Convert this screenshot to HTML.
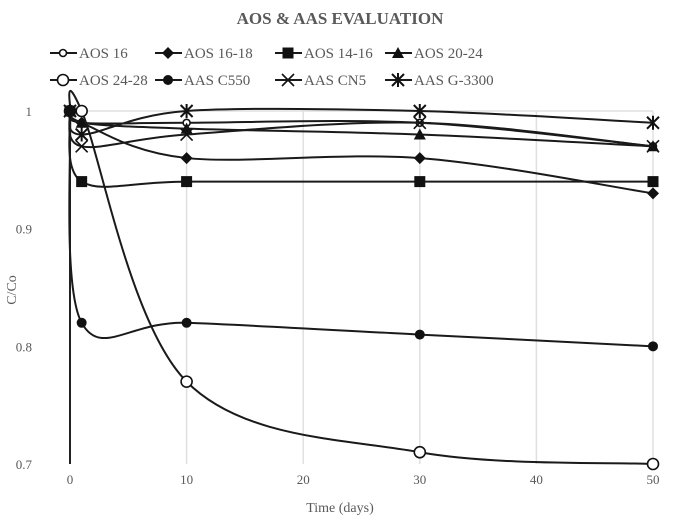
<!DOCTYPE html>
<html><head><meta charset="utf-8"><style>
body{margin:0;background:#fff}
svg{display:block;font-family:"Liberation Serif",serif}
</style></head><body>
<svg id="c" width="677" height="525">
<text x="340" y="24" text-anchor="middle" font-size="17" font-weight="bold" fill="#595959">AOS &amp; AAS EVALUATION</text>
<g id="grid"></g><g id="axes"></g><g id="series"></g><g id="legend"></g>
<text x="340" y="512" text-anchor="middle" font-size="14" fill="#595959">Time (days)</text>
<text transform="translate(16,290) rotate(-90)" text-anchor="middle" font-size="14" fill="#595959">C/Co</text>
</svg>
<script>
const days=[0,1,10,30,50];
const names=["AOS 16","AOS 16-18","AOS 14-16","AOS 20-24","AOS 24-28","AAS C550","AAS CN5","AAS G-3300"];
const markers=["smallcircle","diamond","square","triangle","bigcircle","dot","x","star"];
const aos16=[1,0.99,0.99,0.99,0.97];
const aos1618=[1,0.99,0.96,0.96,0.93];
const aos1416=[1,0.94,0.94,0.94,0.94];
const aos2024=[1,0.99,0.985,0.98,0.97];
const aos2428=[1,1,0.77,0.71,0.70];
const aasC550=[1,0.82,0.82,0.81,0.80];
const aasCN5=[1,0.97,0.98,0.99,0.97];
const aasG3300=[1,0.98,1,1,0.99];
const xTicks=[0,10,20,30,40,50];
const yTicks=[0.7,0.8,0.9,1];
const yTickLabels=["0.7","0.8","0.9","1"];
const allSeries=[aos16,aos1618,aos1416,aos2024,aos2428,aasC550,aasCN5,aasG3300];
const NS="http://www.w3.org/2000/svg";
const X=d=>70+d*(583/50);
const Y=v=>111+(1-v)*(353/0.3);
function mk(tag,attrs,parent){const e=document.createElementNS(NS,tag);for(const k in attrs)e.setAttribute(k,attrs[k]);parent.appendChild(e);return e;}
const grid=document.getElementById('grid'),axes=document.getElementById('axes'),ser=document.getElementById('series'),leg=document.getElementById('legend');
xTicks.forEach((t,i)=>{if(t>0){const l=mk('line',{x1:X(t),x2:X(t),y1:Y(1),y2:Y(0.7),stroke:'#e0e0e0','stroke-width':1.5},grid);

}
const tx=mk('text',{x:X(t),y:484,'text-anchor':'middle','font-size':13,fill:'#595959'},axes);tx.textContent=t;

});
const topLine=mk('line',{x1:X(0),x2:X(50),y1:Y(1),y2:Y(1),stroke:'#e0e0e0','stroke-width':1.5},grid);


yTicks.forEach((t,i)=>{const tx=mk('text',{x:32,y:Y(t)+5,'text-anchor':'end','font-size':13,fill:'#595959'},axes);tx.textContent=yTickLabels[i];

});
const ya=mk('line',{x1:X(0),x2:X(0),y1:Y(1),y2:Y(0.7),stroke:'#222','stroke-width':2},axes);


function smooth(pts){let d=`M${pts[0][0]},${pts[0][1]}`;for(let i=0;i<pts.length-1;i++){const p0=pts[i-1]||pts[i],p1=pts[i],p2=pts[i+1],p3=pts[i+2]||p2;const t=0.5/3;
d+=` C${p1[0]+(p2[0]-p0[0])*t},${p1[1]+(p2[1]-p0[1])*t} ${p2[0]-(p3[0]-p1[0])*t},${p2[1]-(p3[1]-p1[1])*t} ${p2[0]},${p2[1]}`;}return d;}
function marker(type,x,y,g){const s={stroke:'#111','stroke-width':1.6};
switch(type){
case 'smallcircle':return mk('circle',{cx:x,cy:y,r:3.5,fill:'#fff',...s},g);
case 'bigcircle':return mk('circle',{cx:x,cy:y,r:5.5,fill:'#fff',...s},g);
case 'dot':return mk('circle',{cx:x,cy:y,r:5,fill:'#111'},g);
case 'diamond':return mk('polygon',{points:`${x},${y-6} ${x+6},${y} ${x},${y+6} ${x-6},${y}`,fill:'#111'},g);
case 'square':return mk('rect',{x:x-5.5,y:y-5.5,width:11,height:11,fill:'#111'},g);
case 'triangle':return mk('polygon',{points:`${x},${y-6} ${x+6},${y+5} ${x-6},${y+5}`,fill:'#111'},g);
case 'x':return mk('path',{d:`M${x-6},${y-6}L${x+6},${y+6}M${x+6},${y-6}L${x-6},${y+6}`,...s},g);
case 'star':return mk('path',{d:`M${x-6},${y-6}L${x+6},${y+6}M${x+6},${y-6}L${x-6},${y+6}M${x},${y-7}L${x},${y+7}`,stroke:'#111','stroke-width':2},g);}}
allSeries.forEach((vals,si)=>{const g=mk('g',{},ser);


const pts=vals.map((v,i)=>[X(days[i]),Y(v)]);
mk('path',{d:smooth(pts),fill:'none',stroke:'#1a1a1a','stroke-width':2},g);
pts.forEach(p=>{const m=marker(markers[si],p[0],p[1],g);

});});
const lx=[50,155,275,385],ly=[53,80];
names.forEach((n,i)=>{const x=lx[i%4],y=ly[Math.floor(i/4)];const g=mk('g',{},leg);


mk('line',{x1:x,x2:x+27,y1:y,y2:y,stroke:'#1a1a1a','stroke-width':2},g);
marker(markers[i],x+13,y,g);
const t=mk('text',{x:x+29,y:y+5,'font-size':15,fill:'#595959'},g);t.textContent=n;});
</script>
</body></html>
